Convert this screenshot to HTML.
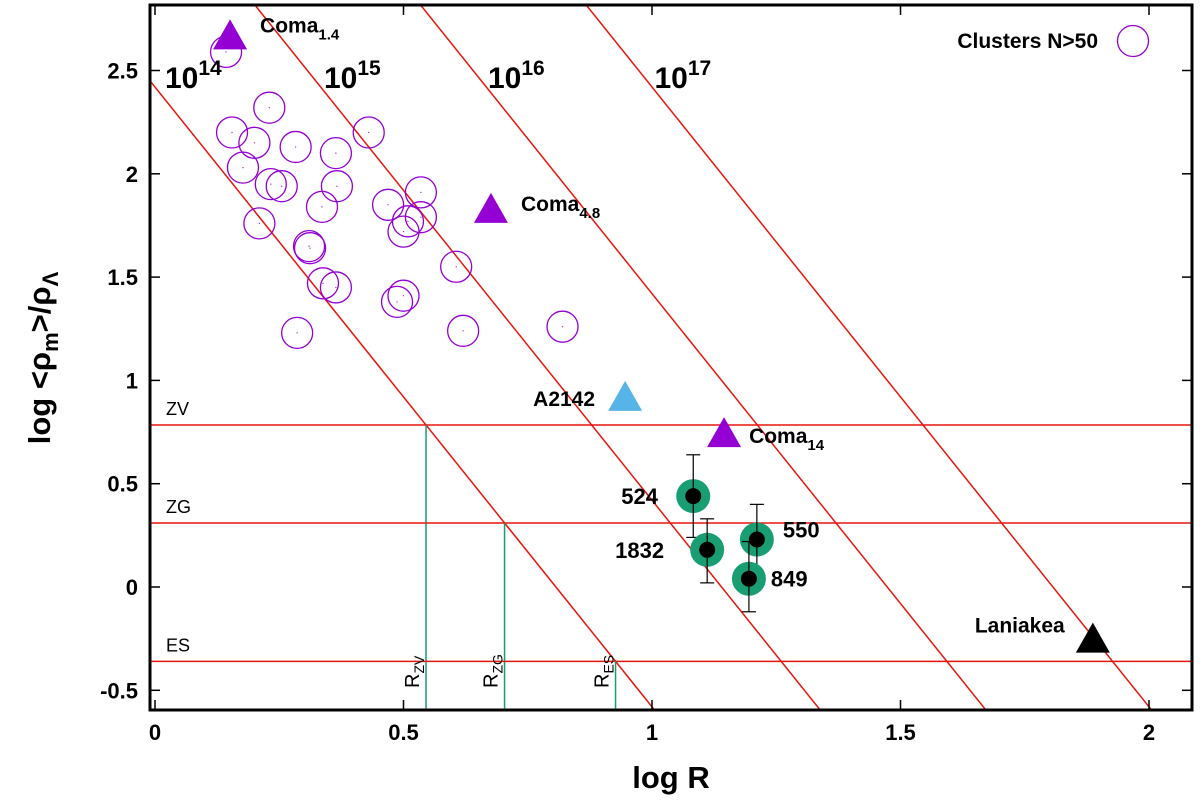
<!DOCTYPE html>
<html><head><meta charset="utf-8">
<style>
html,body{margin:0;background:#fff;overflow:hidden;width:1200px;height:809px;}
svg{display:block;font-family:"Liberation Sans",sans-serif;}
</style></head>
<body>
<svg id="chart" width="1200" height="809"></svg>
<script>
const massLabels=["10","10","10","10"];
const massExps=["14","15","16","17"];
const massConsts=[2.42,3.42,4.42,5.42];
const levelNames=["ZV","ZG","ES"];
const levelValues=[0.784,0.31,-0.36];
const radiusNames=["ZV","ZG","ES"];
const xTicks=[0,0.5,1,1.5,2];
const yTicks=[-0.5,0,0.5,1,1.5,2,2.5];
const clusterX=[0.155,0.20,0.23,0.177,0.283,0.364,0.43,0.233,0.255,0.366,0.535,0.336,0.469,0.535,0.509,0.50,0.21,0.31,0.312,0.606,0.338,0.364,0.50,0.487,0.286,0.62,0.82,0.143];
const clusterY=[2.20,2.15,2.32,2.03,2.13,2.10,2.20,1.95,1.94,1.94,1.91,1.84,1.85,1.79,1.77,1.72,1.76,1.65,1.64,1.55,1.47,1.45,1.41,1.38,1.23,1.24,1.26,2.59];
const triNames=["Coma","Coma","A2142","Coma","Laniakea"];
const triSubs=["1.4","4.8","","14",""];
const triX=[0.151,0.676,0.946,1.145,1.887];
const triY=[2.67,1.83,0.92,0.745,-0.25];
const triColors=["#9400d3","#9400d3","#56b4e9","#9400d3","#000"];
const grpNames=["524","1832","550","849"];
const grpX=[1.083,1.111,1.211,1.195];
const grpY=[0.44,0.18,0.23,0.04];
const grpHi=[0.64,0.33,0.40,0.22];
const grpLo=[0.24,0.02,0.06,-0.12];

const L=150,R=1192,T=5,B=710;
const X=v=>155+v*497;
const Y=v=>587-v*206.6;
const xmin=(L-155)/497,xmax=(R-155)/497,ymax=(587-T)/206.6,ymin=(587-B)/206.6;
const s=document.getElementById('chart');
const NS='http://www.w3.org/2000/svg';
function el(tag,attrs,parent,text){const e=document.createElementNS(NS,tag);for(const k in attrs)e.setAttribute(k,attrs[k]);if(text!==undefined)e.textContent=text;(parent||s).appendChild(e);return e;}

const defs=el('defs',{});
const cp=el('clipPath',{id:'clip'},defs);el('rect',{x:L,y:T,width:R-L,height:B-T},cp);
const g=el('g',{'clip-path':'url(#clip)'});

massConsts.forEach((c,i)=>{
 const ln=el('line',{x1:X(xmin),y1:Y(c-3*xmin),x2:X(xmax),y2:Y(c-3*xmax),stroke:'#e8150c','stroke-width':1.5},g);
 
 
});
levelValues.forEach((v,i)=>{
 const ln=el('line',{x1:L,y1:Y(v),x2:R,y2:Y(v),stroke:'#e8150c','stroke-width':1.5},g);
 
 
 const t=el('text',{x:166,y:Y(v)-10,'font-size':18},s,levelNames[i]);
 
 
 const rx=(massConsts[0]-v)/3;
 const vl=el('line',{x1:X(rx),y1:Y(v),x2:X(rx),y2:B,stroke:'#199e73','stroke-width':1.5},g);
 
 
 const lt=el('text',{transform:`translate(${X(rx)-7},${B-22}) rotate(-90)`,'font-size':20},s);
 
 
 el('tspan',{},lt,'R');el('tspan',{'font-size':14,dy:5},lt,radiusNames[i]);
});
const mlx=[0.02,0.34,0.67,1.005];
massExps.forEach((e,i)=>{
 const t=el('text',{x:X(mlx[i]),y:88,'font-size':30,'font-weight':'bold'},s);
 
 
 el('tspan',{},t,massLabels[i]);el('tspan',{dy:-13,'font-size':21},t,e);
});
clusterX.forEach((x,i)=>{
 const c=el('circle',{cx:X(x),cy:Y(clusterY[i]),r:15.5,fill:'none',stroke:'#9400d3','stroke-width':1.3},g);
 
 
 el('circle',{cx:X(x),cy:Y(clusterY[i]),r:0.6,fill:'#9400d3'},g);
});
const tlx=[30,30,-92,25,-118],tly=[-3,2,9,10,-6];
triX.forEach((x,i)=>{
 const px=X(x),py=Y(triY[i]);
 const p=el('polygon',{points:`${px-17},${py+14} ${px+17},${py+14} ${px},${py-16}`,fill:triColors[i]},g);
 
 
 const t=el('text',{x:px+tlx[i],y:py+tly[i],'font-size':21,'font-weight':'bold'},s);
 
 
 el('tspan',{},t,triNames[i]);
 if(triSubs[i])el('tspan',{dy:7,'font-size':15},t,triSubs[i]);
});
const glx=[-72,-92,26,22],gly=[8,8,-2,8];
grpX.forEach((x,i)=>{
 const px=X(x);
 const e=el('g',{},g);
 
 
 el('circle',{cx:px,cy:Y(grpY[i]),r:17,fill:'#199e73'},e);
 el('line',{x1:px,y1:Y(grpHi[i]),x2:px,y2:Y(grpLo[i]),stroke:'#000','stroke-width':1.2},e);
 el('line',{x1:px-7,y1:Y(grpHi[i]),x2:px+7,y2:Y(grpHi[i]),stroke:'#000','stroke-width':1.2},e);
 el('line',{x1:px-7,y1:Y(grpLo[i]),x2:px+7,y2:Y(grpLo[i]),stroke:'#000','stroke-width':1.2},e);
 el('circle',{cx:px,cy:Y(grpY[i]),r:8,fill:'#000'},e);
 const t=el('text',{x:px+glx[i],y:Y(grpY[i])+gly[i],'font-size':22,'font-weight':'bold'},s,grpNames[i]);
 
 
});
const lt=el('text',{x:1098,y:48,'font-size':21,'font-weight':'bold','text-anchor':'end'},s,'Clusters N>50');

const lc=el('circle',{cx:1133,cy:41,r:15.5,fill:'none',stroke:'#9400d3','stroke-width':1.3});


const fr=el('rect',{x:L,y:T,width:R-L,height:B-T,fill:'none',stroke:'#000','stroke-width':3});

xTicks.forEach(v=>{
 el('line',{x1:X(v),y1:B,x2:X(v),y2:B-10,stroke:'#000','stroke-width':1.5});
 el('line',{x1:X(v),y1:T,x2:X(v),y2:T+10,stroke:'#000','stroke-width':1.5});
 const t=el('text',{x:X(v),y:B+30,'font-size':22,'font-weight':'bold','text-anchor':'middle'},s,String(v));
 
});
yTicks.forEach(v=>{
 el('line',{x1:L,y1:Y(v),x2:L+10,y2:Y(v),stroke:'#000','stroke-width':1.5});
 el('line',{x1:R,y1:Y(v),x2:R-10,y2:Y(v),stroke:'#000','stroke-width':1.5});
 const t=el('text',{x:L-12,y:Y(v)+8,'font-size':22,'font-weight':'bold','text-anchor':'end'},s,String(v));
 
});
const xt=el('text',{x:671,y:788,'font-size':31,'font-weight':'bold','text-anchor':'middle'},s,'log R');

const yt=el('text',{transform:'translate(50,358) rotate(-90)','font-size':31,'font-weight':'bold','text-anchor':'middle'},s);

el('tspan',{},yt,'log <ρ');el('tspan',{dy:8,'font-size':22},yt,'m');el('tspan',{dy:-8},yt,'>/ρ');el('tspan',{dy:8,'font-size':22},yt,'Λ');
</script>
</body></html>
